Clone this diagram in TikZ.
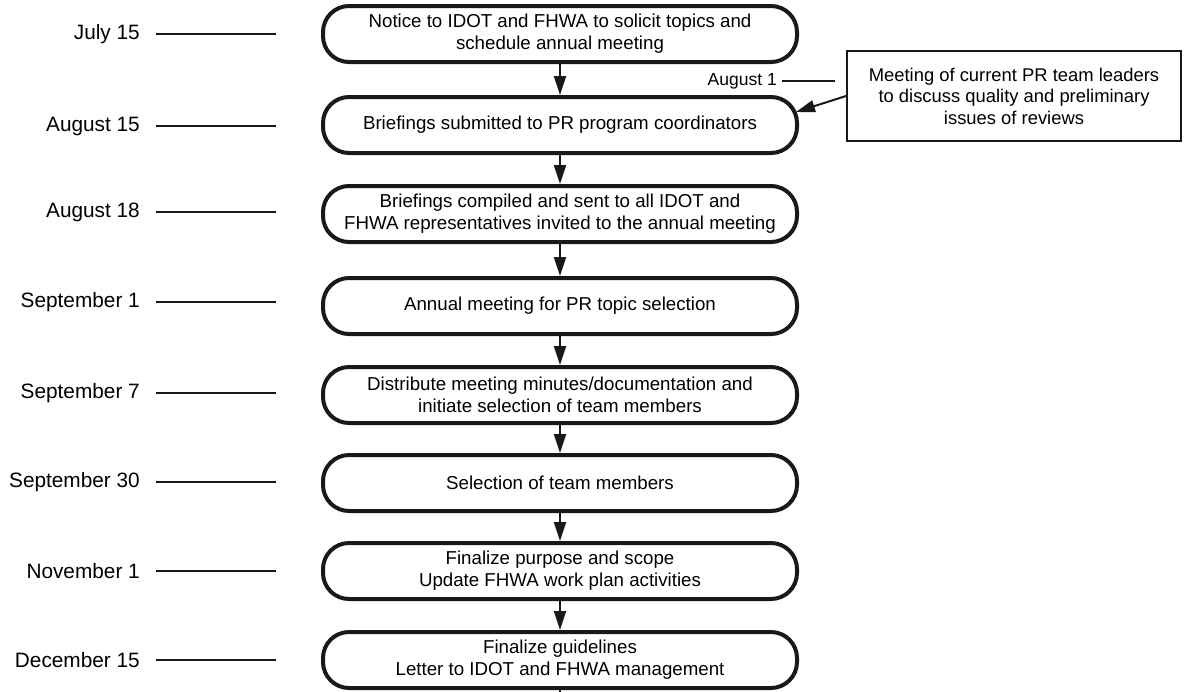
\documentclass[tikz,border=0pt]{standalone}
\usepackage{fontspec}
\setmainfont{Liberation Sans}
\usetikzlibrary{arrows.meta,calc}
\begin{document}
\begin{tikzpicture}[x=1pt,y=-1pt,
  stepbox/.style={draw=black!90, line width=4pt, rounded corners=26pt,
    minimum width=474pt, minimum height=56pt, inner sep=2pt, align=center,
    font=\fontsize{18.7}{22}\selectfont},
  notebox/.style={draw=black!90, line width=2pt, minimum width=334pt,
    minimum height=90pt, align=center, font=\fontsize{18.4}{21.5}\selectfont},
  datelabel/.style={anchor=east, inner sep=0pt, font=\fontsize{20.8}{24}\selectfont},
  smalldate/.style={anchor=east, inner sep=0pt, font=\fontsize{17.5}{20}\selectfont},
  tick/.style={line width=2pt, draw=black!90},
  flow/.style={line width=2pt, draw=black!90, -{Triangle[length=19pt,width=12pt]}}]
\useasboundingbox (0,0) rectangle (1193,691);

\node[stepbox] (b1) at (560,34) {Notice to IDOT and FHWA to solicit topics and\\schedule annual meeting};
\node[stepbox] (b2) at (560,125) {Briefings submitted to PR program coordinators};
\node[stepbox] (b3) at (560,214) {Briefings compiled and sent to all IDOT and\\FHWA representatives invited to the annual meeting};
\node[stepbox] (b4) at (560,306) {Annual meeting for PR topic selection};
\node[stepbox] (b5) at (560,395) {Distribute meeting minutes/documentation and\\initiate selection of team members};
\node[stepbox] (b6) at (560,483) {Selection of team members};
\node[stepbox] (b7) at (560,571) {Finalize purpose and scope\\Update FHWA work plan activities};
\node[stepbox] (b8) at (560,660) {Finalize guidelines\\Letter to IDOT and FHWA management};

\foreach \a/\b in {b1/b2,b2/b3,b3/b4,b4/b5,b5/b6,b6/b7,b7/b8}
  \draw[flow] (\a.south) -- (\b.north);
\coordinate (endpt) at (560,692);
\draw[tick] (b8.south) -- (endpt);

\foreach \n/\y/\t in {d1/34/July 15, d2/126/August 15, d3/212/August 18,
  d4/302/September 1, d5/393/September 7, d6/482/September 30,
  d7/571/November 1, d8/660/December 15}{
  \node[datelabel] (\n) at (140,\y) {\t};
  \draw[tick] ($(\n.east)+(16,0)$) -- ++(120,0);
}

\node[notebox] (rb) at (1014,96) {Meeting of current PR team leaders\\to discuss quality and preliminary\\issues of reviews};
\node[smalldate] (a1) at (777,81) {August 1};
\draw[tick] ($(a1.east)+(5,0)$) -- ++(53,0);
\draw[flow] (rb.west) -- ($(b2.east)+(-3,-13)$);
\end{tikzpicture}
\end{document}
